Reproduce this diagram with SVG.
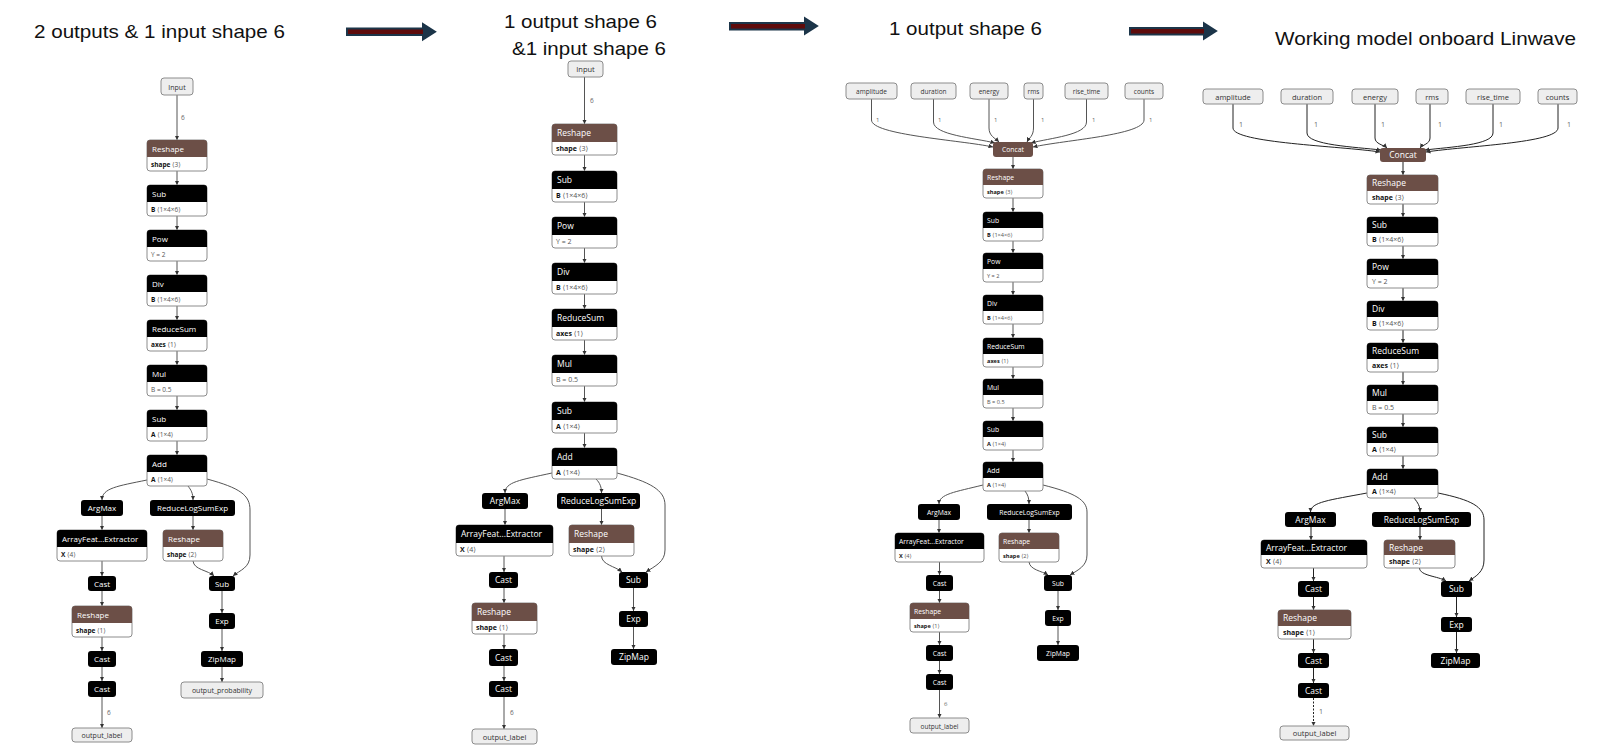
<svg xmlns="http://www.w3.org/2000/svg" width="1605" height="745" viewBox="0 0 1605 745">
<style>
text{font-family:"Open Sans","Liberation Sans","DejaVu Sans",sans-serif}
.ob{fill:#fff;stroke:#8c8c8c;stroke-width:1}
.io{fill:#eee;stroke:#8c8c8c;stroke-width:1}
.hb{fill:#000}
.hs{fill:#6c4f47}
.h{fill:#fff}
.c{text-anchor:middle}
.a{fill:#555}
.a tspan{fill:#111;font-weight:bold}
.it{fill:#333;text-anchor:middle}
.el{fill:#666}
.e{fill:none;stroke:#555;stroke-width:1;marker-end:url(#ah)}
.e4{fill:none;stroke:#222;stroke-width:1;marker-end:url(#ah)}
.p1 .h{font-size:8px}.p1 .a{font-size:6.5px}.p1 .it{font-size:7px}.p1 .el{font-size:6.5px}
.p2 .h{font-size:8.5px}.p2 .a{font-size:7px}.p2 .it{font-size:7.5px}.p2 .el{font-size:6.5px}
.p3 .h{font-size:6.8px}.p3 .a{font-size:5.6px}.p3 .it{font-size:6.5px}.p3 .el{font-size:6px}
.p4 .h{font-size:8.5px}.p4 .a{font-size:7px}.p4 .it{font-size:7.5px}.p4 .el{font-size:7px}
.ttl{font-family:"Liberation Sans Narrow","Liberation Sans",sans-serif;font-size:19px;fill:#111}
.arb{fill:#5e0b0b;stroke:#1c3549;stroke-width:2;stroke-linejoin:miter}
.arh{fill:#1c3549}
</style>
<defs>
<marker id="ah" viewBox="0 0 8 8" refX="8" refY="4" markerWidth="4.5" markerHeight="4.5" orient="auto"><path d="M0,0 L8,4 L0,8 z" fill="#333"/></marker>
</defs>
<rect width="1605" height="745" fill="#fff"/>

<g id="titles">
<text class="ttl" x="34" y="38" textLength="251" lengthAdjust="spacingAndGlyphs">2 outputs &amp; 1 input shape 6</text>
<text class="ttl" x="504" y="28" textLength="153" lengthAdjust="spacingAndGlyphs">1 output shape 6</text>
<text class="ttl" x="512" y="55" textLength="154" lengthAdjust="spacingAndGlyphs">&amp;1 input shape 6</text>
<text class="ttl" x="889" y="35" textLength="153" lengthAdjust="spacingAndGlyphs">1 output shape 6</text>
<text class="ttl" x="1275" y="45" textLength="301" lengthAdjust="spacingAndGlyphs">Working model onboard Linwave</text>
</g>
<g id="bigarrows">
<polygon class="arb" points="347,28.5 423,28.5 423,24 435,31.7 423,39.4 423,35 347,35"/>
<polygon class="arh" points="423,24 435,31.7 423,39.4"/>
<polygon class="arb" points="730,23 805,23 805,18.3 817,26 805,33.7 805,29.5 730,29.5"/>
<polygon class="arh" points="805,18.3 817,26 805,33.7"/>
<polygon class="arb" points="1130,28 1204,28 1204,23.3 1216,31 1204,38.7 1204,34.5 1130,34.5"/>
<polygon class="arh" points="1204,23.3 1216,31 1204,38.7"/>
</g>

<!-- PANEL 1 -->
<g class="p1">
<g id="p1-edges">
<path class="e" d="M177,95V140"/>
<path class="e" d="M177,171V185"/>
<path class="e" d="M177,216V230"/>
<path class="e" d="M177,261V275"/>
<path class="e" d="M177,306V320"/>
<path class="e" d="M177,351V365"/>
<path class="e" d="M177,396V410"/>
<path class="e" d="M177,441V455"/>
<path class="e" d="M147,480C118,486 102,488 102,500"/>
<path class="e" d="M188,486C191,490 193,493 193,500"/>
<path class="e" d="M207,479C240,488 250,495 250,510V555C250,568 240,570 233,576"/>
<path class="e" d="M193,561C194,570 208,570 214,576"/>
<path class="e" d="M102,516V530"/>
<path class="e" d="M193,516V530"/>
<path class="e" d="M102,561V576"/>
<path class="e" d="M102,591V606"/>
<path class="e" d="M102,637V651"/>
<path class="e" d="M102,667V681"/>
<path class="e" d="M102,697V728"/>
<path class="e" d="M222,591V613"/>
<path class="e" d="M222,629V651"/>
<path class="e" d="M222,667V682"/>
<text class="el" x="181" y="120">6</text>
<text class="el" x="107" y="715">6</text>
</g>
<g id="p1-input"><rect class="io" x="161" y="78" width="32" height="17" rx="3"/><text class="it" x="177" y="89.5">Input</text></g>
<g id="p1-reshape"><rect class="ob" x="147" y="140" width="60" height="31" rx="3"/><path class="hs" d="M147,157v-14a3 3 0 0 1 3-3h54a3 3 0 0 1 3 3v14z"/><text class="h" x="152" y="151.5">Reshape</text><text class="a" x="151" y="166.5"><tspan>shape</tspan> ⟨3⟩</text></g>
<g id="p1-sub"><rect class="ob" x="147" y="185" width="60" height="31" rx="3"/><path class="hb" d="M147,202v-14a3 3 0 0 1 3-3h54a3 3 0 0 1 3 3v14z"/><text class="h" x="152" y="196.5">Sub</text><text class="a" x="151" y="211.5"><tspan>B</tspan> ⟨1×4×6⟩</text></g>
<g id="p1-pow"><rect class="ob" x="147" y="230" width="60" height="31" rx="3"/><path class="hb" d="M147,247v-14a3 3 0 0 1 3-3h54a3 3 0 0 1 3 3v14z"/><text class="h" x="152" y="241.5">Pow</text><text class="a" x="151" y="256.5">Y = 2</text></g>
<g id="p1-div"><rect class="ob" x="147" y="275" width="60" height="31" rx="3"/><path class="hb" d="M147,292v-14a3 3 0 0 1 3-3h54a3 3 0 0 1 3 3v14z"/><text class="h" x="152" y="286.5">Div</text><text class="a" x="151" y="301.5"><tspan>B</tspan> ⟨1×4×6⟩</text></g>
<g id="p1-reducesum"><rect class="ob" x="147" y="320" width="60" height="31" rx="3"/><path class="hb" d="M147,337v-14a3 3 0 0 1 3-3h54a3 3 0 0 1 3 3v14z"/><text class="h" x="152" y="331.5">ReduceSum</text><text class="a" x="151" y="346.5"><tspan>axes</tspan> ⟨1⟩</text></g>
<g id="p1-mul"><rect class="ob" x="147" y="365" width="60" height="31" rx="3"/><path class="hb" d="M147,382v-14a3 3 0 0 1 3-3h54a3 3 0 0 1 3 3v14z"/><text class="h" x="152" y="376.5">Mul</text><text class="a" x="151" y="391.5">B = 0.5</text></g>
<g id="p1-sub2"><rect class="ob" x="147" y="410" width="60" height="31" rx="3"/><path class="hb" d="M147,427v-14a3 3 0 0 1 3-3h54a3 3 0 0 1 3 3v14z"/><text class="h" x="152" y="421.5">Sub</text><text class="a" x="151" y="436.5"><tspan>A</tspan> ⟨1×4⟩</text></g>
<g id="p1-add"><rect class="ob" x="147" y="455" width="60" height="31" rx="3"/><path class="hb" d="M147,472v-14a3 3 0 0 1 3-3h54a3 3 0 0 1 3 3v14z"/><text class="h" x="152" y="466.5">Add</text><text class="a" x="151" y="481.5"><tspan>A</tspan> ⟨1×4⟩</text></g>
<g id="p1-argmax"><rect class="hb" x="81" y="500" width="42" height="16" rx="3"/><text class="h c" x="102" y="511">ArgMax</text></g>
<g id="p1-rlse"><rect class="hb" x="150" y="500" width="85" height="16" rx="3"/><text class="h c" x="192.5" y="511">ReduceLogSumExp</text></g>
<g id="p1-afe"><rect class="ob" x="57" y="530" width="90" height="31" rx="3"/><path class="hb" d="M57,547v-14a3 3 0 0 1 3-3h84a3 3 0 0 1 3 3v14z"/><text class="h" x="62" y="541.5">ArrayFeat...Extractor</text><text class="a" x="61" y="556.5"><tspan>X</tspan> ⟨4⟩</text></g>
<g id="p1-reshape2"><rect class="ob" x="163" y="530" width="60" height="31" rx="3"/><path class="hs" d="M163,547v-14a3 3 0 0 1 3-3h54a3 3 0 0 1 3 3v14z"/><text class="h" x="168" y="541.5">Reshape</text><text class="a" x="167" y="556.5"><tspan>shape</tspan> ⟨2⟩</text></g>
<g id="p1-cast1"><rect class="hb" x="88" y="576" width="28" height="15" rx="3"/><text class="h c" x="102" y="586.5">Cast</text></g>
<g id="p1-reshape3"><rect class="ob" x="72" y="606" width="60" height="31" rx="3"/><path class="hs" d="M72,623v-14a3 3 0 0 1 3-3h54a3 3 0 0 1 3 3v14z"/><text class="h" x="77" y="617.5">Reshape</text><text class="a" x="76" y="632.5"><tspan>shape</tspan> ⟨1⟩</text></g>
<g id="p1-cast2"><rect class="hb" x="88" y="651" width="28" height="16" rx="3"/><text class="h c" x="102" y="662">Cast</text></g>
<g id="p1-cast3"><rect class="hb" x="88" y="681" width="28" height="16" rx="3"/><text class="h c" x="102" y="692">Cast</text></g>
<g id="p1-outlabel"><rect class="io" x="72" y="728" width="60" height="14" rx="3"/><text class="it" x="102" y="738">output_label</text></g>
<g id="p1-sub3"><rect class="hb" x="209" y="576" width="26" height="15" rx="3"/><text class="h c" x="222" y="586.5">Sub</text></g>
<g id="p1-exp"><rect class="hb" x="209" y="613" width="26" height="16" rx="3"/><text class="h c" x="222" y="624">Exp</text></g>
<g id="p1-zipmap"><rect class="hb" x="201" y="651" width="42" height="16" rx="3"/><text class="h c" x="222" y="662">ZipMap</text></g>
<g id="p1-outprob"><rect class="io" x="181" y="682" width="82" height="16" rx="3"/><text class="it" x="222" y="693">output_probability</text></g>
</g>

<!-- PANEL 2 -->
<g class="p2">
<g id="p2-edges">
<path class="e" d="M584.5,77V124"/>
<path class="e" d="M584.5,155V171"/>
<path class="e" d="M584.5,202V217"/>
<path class="e" d="M584.5,248V263"/>
<path class="e" d="M584.5,294V309"/>
<path class="e" d="M584.5,340V355"/>
<path class="e" d="M584.5,386V402"/>
<path class="e" d="M584.5,433V448"/>
<path class="e" d="M552,473C520,480 505,482 505,493"/>
<path class="e" d="M596,479C600,483 601.5,487 601.5,493"/>
<path class="e" d="M617,473C650,482 665,490 665,505V550C665,562 655,566 646,572"/>
<path class="e" d="M601.5,556C602,565 615,566 622,572"/>
<path class="e" d="M505,509V525"/>
<path class="e" d="M601.5,509V525"/>
<path class="e" d="M504,556V572"/>
<path class="e" d="M504,588V603"/>
<path class="e" d="M504,634V649"/>
<path class="e" d="M504,666V681"/>
<path class="e" d="M504,697V729"/>
<path class="e" d="M633.5,588V611"/>
<path class="e" d="M633.5,627V649"/>
<text class="el" x="590" y="103">6</text>
<text class="el" x="510" y="715">6</text>
</g>
<g id="p2-input"><rect class="io" x="568" y="61" width="35" height="16" rx="3"/><text class="it" x="585.5" y="72">Input</text></g>
<g id="p2-reshape"><rect class="ob" x="552" y="124" width="65" height="31" rx="3"/><path class="hs" d="M552,142v-15a3 3 0 0 1 3-3h59a3 3 0 0 1 3 3v15z"/><text class="h" x="557" y="136">Reshape</text><text class="a" x="556" y="151"><tspan>shape</tspan> ⟨3⟩</text></g>
<g id="p2-sub"><rect class="ob" x="552" y="171" width="65" height="31" rx="3"/><path class="hb" d="M552,189v-15a3 3 0 0 1 3-3h59a3 3 0 0 1 3 3v15z"/><text class="h" x="557" y="183">Sub</text><text class="a" x="556" y="198"><tspan>B</tspan> ⟨1×4×6⟩</text></g>
<g id="p2-pow"><rect class="ob" x="552" y="217" width="65" height="31" rx="3"/><path class="hb" d="M552,235v-15a3 3 0 0 1 3-3h59a3 3 0 0 1 3 3v15z"/><text class="h" x="557" y="229">Pow</text><text class="a" x="556" y="244">Y = 2</text></g>
<g id="p2-div"><rect class="ob" x="552" y="263" width="65" height="31" rx="3"/><path class="hb" d="M552,281v-15a3 3 0 0 1 3-3h59a3 3 0 0 1 3 3v15z"/><text class="h" x="557" y="275">Div</text><text class="a" x="556" y="290"><tspan>B</tspan> ⟨1×4×6⟩</text></g>
<g id="p2-reducesum"><rect class="ob" x="552" y="309" width="65" height="31" rx="3"/><path class="hb" d="M552,327v-15a3 3 0 0 1 3-3h59a3 3 0 0 1 3 3v15z"/><text class="h" x="557" y="321">ReduceSum</text><text class="a" x="556" y="336"><tspan>axes</tspan> ⟨1⟩</text></g>
<g id="p2-mul"><rect class="ob" x="552" y="355" width="65" height="31" rx="3"/><path class="hb" d="M552,373v-15a3 3 0 0 1 3-3h59a3 3 0 0 1 3 3v15z"/><text class="h" x="557" y="367">Mul</text><text class="a" x="556" y="382">B = 0.5</text></g>
<g id="p2-sub2"><rect class="ob" x="552" y="402" width="65" height="31" rx="3"/><path class="hb" d="M552,420v-15a3 3 0 0 1 3-3h59a3 3 0 0 1 3 3v15z"/><text class="h" x="557" y="414">Sub</text><text class="a" x="556" y="429"><tspan>A</tspan> ⟨1×4⟩</text></g>
<g id="p2-add"><rect class="ob" x="552" y="448" width="65" height="31" rx="3"/><path class="hb" d="M552,466v-15a3 3 0 0 1 3-3h59a3 3 0 0 1 3 3v15z"/><text class="h" x="557" y="460">Add</text><text class="a" x="556" y="475"><tspan>A</tspan> ⟨1×4⟩</text></g>
<g id="p2-argmax"><rect class="hb" x="482" y="493" width="46" height="16" rx="3"/><text class="h c" x="505" y="504">ArgMax</text></g>
<g id="p2-rlse"><rect class="hb" x="557" y="493" width="83" height="16" rx="3"/><text class="h c" x="598.5" y="504">ReduceLogSumExp</text></g>
<g id="p2-afe"><rect class="ob" x="456" y="525" width="97" height="31" rx="3"/><path class="hb" d="M456,543v-15a3 3 0 0 1 3-3h91a3 3 0 0 1 3 3v15z"/><text class="h" x="461" y="537">ArrayFeat...Extractor</text><text class="a" x="460" y="552"><tspan>X</tspan> ⟨4⟩</text></g>
<g id="p2-reshape2"><rect class="ob" x="569" y="525" width="65" height="31" rx="3"/><path class="hs" d="M569,543v-15a3 3 0 0 1 3-3h59a3 3 0 0 1 3 3v15z"/><text class="h" x="574" y="537">Reshape</text><text class="a" x="573" y="552"><tspan>shape</tspan> ⟨2⟩</text></g>
<g id="p2-cast1"><rect class="hb" x="489" y="572" width="29" height="16" rx="3"/><text class="h c" x="503.5" y="583">Cast</text></g>
<g id="p2-reshape3"><rect class="ob" x="472" y="603" width="65" height="31" rx="3"/><path class="hs" d="M472,621v-15a3 3 0 0 1 3-3h59a3 3 0 0 1 3 3v15z"/><text class="h" x="477" y="615">Reshape</text><text class="a" x="476" y="630"><tspan>shape</tspan> ⟨1⟩</text></g>
<g id="p2-cast2"><rect class="hb" x="489" y="649" width="29" height="17" rx="3"/><text class="h c" x="503.5" y="660.5">Cast</text></g>
<g id="p2-cast3"><rect class="hb" x="489" y="681" width="29" height="16" rx="3"/><text class="h c" x="503.5" y="692">Cast</text></g>
<g id="p2-outlabel"><rect class="io" x="472" y="729" width="65" height="15" rx="3"/><text class="it" x="504.5" y="740">output_label</text></g>
<g id="p2-sub3"><rect class="hb" x="619" y="572" width="29" height="16" rx="3"/><text class="h c" x="633.5" y="583">Sub</text></g>
<g id="p2-exp"><rect class="hb" x="619" y="611" width="29" height="16" rx="3"/><text class="h c" x="633.5" y="622">Exp</text></g>
<g id="p2-zipmap"><rect class="hb" x="611" y="649" width="46" height="16" rx="3"/><text class="h c" x="634" y="660">ZipMap</text></g>
</g>

<!-- PANEL 3 -->
<g class="p3">
<g id="p3-edges">
<path class="e" d="M871.5,99V120C871.5,135 960,140 993,147"/>
<path class="e" d="M933.5,99V122C933.5,135 975,138 995,143"/>
<path class="e" d="M989,99V128C989,136 995,138 999,142"/>
<path class="e" d="M1033.5,99V128C1033.5,136 1029,138 1027,142"/>
<path class="e" d="M1086.5,99V122C1086.5,135 1050,138 1031,143"/>
<path class="e" d="M1144,99V120C1144,135 1065,140 1033,147"/>
<path class="e" d="M1013,157V169"/>
<path class="e" d="M1013,198V212"/>
<path class="e" d="M1013,241V253"/>
<path class="e" d="M1013,282V295"/>
<path class="e" d="M1013,324V338"/>
<path class="e" d="M1013,367V379"/>
<path class="e" d="M1013,408V421"/>
<path class="e" d="M1013,450V462"/>
<path class="e" d="M983,485C955,492 939,494 939,504"/>
<path class="e" d="M1025,491C1028,495 1029,498 1029,504"/>
<path class="e" d="M1043,485C1075,493 1087,500 1087,512V555C1087,566 1078,570 1070,575"/>
<path class="e" d="M1029,562C1030,570 1042,571 1048,575"/>
<path class="e" d="M939,520V533"/>
<path class="e" d="M1029,520V533"/>
<path class="e" d="M939.5,562V575"/>
<path class="e" d="M939.5,591V603"/>
<path class="e" d="M939.5,632V645"/>
<path class="e" d="M939.5,661V674"/>
<path class="e" d="M939.5,690V718"/>
<path class="e" d="M1058,591V610"/>
<path class="e" d="M1058,626V645"/>
<text class="el" x="876" y="122">1</text>
<text class="el" x="938" y="122">1</text>
<text class="el" x="994" y="122">1</text>
<text class="el" x="1041" y="122">1</text>
<text class="el" x="1092" y="122">1</text>
<text class="el" x="1149" y="122">1</text>
<text class="el" x="944" y="706">6</text>
</g>
<g id="p3-amplitude"><rect class="io" x="846" y="83" width="51" height="16" rx="3"/><text class="it" x="871.5" y="93.5">amplitude</text></g>
<g id="p3-duration"><rect class="io" x="911" y="83" width="45" height="16" rx="3"/><text class="it" x="933.5" y="93.5">duration</text></g>
<g id="p3-energy"><rect class="io" x="970" y="83" width="38" height="16" rx="3"/><text class="it" x="989" y="93.5">energy</text></g>
<g id="p3-rms"><rect class="io" x="1024" y="83" width="19" height="16" rx="3"/><text class="it" x="1033.5" y="93.5">rms</text></g>
<g id="p3-risetime"><rect class="io" x="1065" y="83" width="43" height="16" rx="3"/><text class="it" x="1086.5" y="93.5">rise_time</text></g>
<g id="p3-counts"><rect class="io" x="1125" y="83" width="38" height="16" rx="3"/><text class="it" x="1144" y="93.5">counts</text></g>
<g id="p3-concat"><rect class="hs" x="993" y="142" width="40" height="15" rx="3"/><text class="h c" x="1013" y="152">Concat</text></g>
<g id="p3-reshape"><rect class="ob" x="983" y="169" width="60" height="29" rx="3"/><path class="hs" d="M983,185v-13a3 3 0 0 1 3-3h54a3 3 0 0 1 3 3v13z"/><text class="h" x="987" y="179.5">Reshape</text><text class="a" x="987" y="193.5"><tspan>shape</tspan> ⟨3⟩</text></g>
<g id="p3-sub"><rect class="ob" x="983" y="212" width="60" height="29" rx="3"/><path class="hb" d="M983,228v-13a3 3 0 0 1 3-3h54a3 3 0 0 1 3 3v13z"/><text class="h" x="987" y="222.5">Sub</text><text class="a" x="987" y="236.5"><tspan>B</tspan> ⟨1×4×6⟩</text></g>
<g id="p3-pow"><rect class="ob" x="983" y="253" width="60" height="29" rx="3"/><path class="hb" d="M983,269v-13a3 3 0 0 1 3-3h54a3 3 0 0 1 3 3v13z"/><text class="h" x="987" y="263.5">Pow</text><text class="a" x="987" y="277.5">Y = 2</text></g>
<g id="p3-div"><rect class="ob" x="983" y="295" width="60" height="29" rx="3"/><path class="hb" d="M983,311v-13a3 3 0 0 1 3-3h54a3 3 0 0 1 3 3v13z"/><text class="h" x="987" y="305.5">Div</text><text class="a" x="987" y="319.5"><tspan>B</tspan> ⟨1×4×6⟩</text></g>
<g id="p3-reducesum"><rect class="ob" x="983" y="338" width="60" height="29" rx="3"/><path class="hb" d="M983,354v-13a3 3 0 0 1 3-3h54a3 3 0 0 1 3 3v13z"/><text class="h" x="987" y="348.5">ReduceSum</text><text class="a" x="987" y="362.5"><tspan>axes</tspan> ⟨1⟩</text></g>
<g id="p3-mul"><rect class="ob" x="983" y="379" width="60" height="29" rx="3"/><path class="hb" d="M983,395v-13a3 3 0 0 1 3-3h54a3 3 0 0 1 3 3v13z"/><text class="h" x="987" y="389.5">Mul</text><text class="a" x="987" y="403.5">B = 0.5</text></g>
<g id="p3-sub2"><rect class="ob" x="983" y="421" width="60" height="29" rx="3"/><path class="hb" d="M983,437v-13a3 3 0 0 1 3-3h54a3 3 0 0 1 3 3v13z"/><text class="h" x="987" y="431.5">Sub</text><text class="a" x="987" y="445.5"><tspan>A</tspan> ⟨1×4⟩</text></g>
<g id="p3-add"><rect class="ob" x="983" y="462" width="60" height="29" rx="3"/><path class="hb" d="M983,478v-13a3 3 0 0 1 3-3h54a3 3 0 0 1 3 3v13z"/><text class="h" x="987" y="472.5">Add</text><text class="a" x="987" y="486.5"><tspan>A</tspan> ⟨1×4⟩</text></g>
<g id="p3-argmax"><rect class="hb" x="918" y="504" width="42" height="16" rx="3"/><text class="h c" x="939" y="514.5">ArgMax</text></g>
<g id="p3-rlse"><rect class="hb" x="987" y="504" width="85" height="16" rx="3"/><text class="h c" x="1029.5" y="514.5">ReduceLogSumExp</text></g>
<g id="p3-afe"><rect class="ob" x="895" y="533" width="89" height="29" rx="3"/><path class="hb" d="M895,549v-13a3 3 0 0 1 3-3h83a3 3 0 0 1 3 3v13z"/><text class="h" x="899" y="543.5">ArrayFeat...Extractor</text><text class="a" x="899" y="557.5"><tspan>X</tspan> ⟨4⟩</text></g>
<g id="p3-reshape2"><rect class="ob" x="999" y="533" width="60" height="29" rx="3"/><path class="hs" d="M999,549v-13a3 3 0 0 1 3-3h54a3 3 0 0 1 3 3v13z"/><text class="h" x="1003" y="543.5">Reshape</text><text class="a" x="1003" y="557.5"><tspan>shape</tspan> ⟨2⟩</text></g>
<g id="p3-cast1"><rect class="hb" x="926" y="575" width="27" height="16" rx="3"/><text class="h c" x="939.5" y="585.5">Cast</text></g>
<g id="p3-reshape3"><rect class="ob" x="910" y="603" width="59" height="29" rx="3"/><path class="hs" d="M910,619v-13a3 3 0 0 1 3-3h53a3 3 0 0 1 3 3v13z"/><text class="h" x="914" y="613.5">Reshape</text><text class="a" x="914" y="627.5"><tspan>shape</tspan> ⟨1⟩</text></g>
<g id="p3-cast2"><rect class="hb" x="926" y="645" width="27" height="16" rx="3"/><text class="h c" x="939.5" y="655.5">Cast</text></g>
<g id="p3-cast3"><rect class="hb" x="926" y="674" width="27" height="16" rx="3"/><text class="h c" x="939.5" y="684.5">Cast</text></g>
<g id="p3-outlabel"><rect class="io" x="910" y="718" width="59" height="15" rx="3"/><text class="it" x="939.5" y="728.5">output_label</text></g>
<g id="p3-sub3"><rect class="hb" x="1044" y="575" width="28" height="16" rx="3"/><text class="h c" x="1058" y="585.5">Sub</text></g>
<g id="p3-exp"><rect class="hb" x="1045" y="610" width="26" height="16" rx="3"/><text class="h c" x="1058" y="620.5">Exp</text></g>
<g id="p3-zipmap"><rect class="hb" x="1037" y="645" width="42" height="16" rx="3"/><text class="h c" x="1058" y="655.5">ZipMap</text></g>
</g>

<!-- PANEL 4 -->
<g class="p4">
<g id="p4-edges">
<path class="e4" d="M1233,104V128C1233,143 1340,146 1380,152"/>
<path class="e4" d="M1307,104V133C1307,145 1355,147 1381,150"/>
<path class="e4" d="M1375,104V138C1375,144 1384,145 1387,148"/>
<path class="e4" d="M1430,104V138C1430,144 1422,145 1420,148"/>
<path class="e4" d="M1493,104V133C1493,145 1450,147 1425,150"/>
<path class="e4" d="M1558,104V128C1558,143 1465,146 1426,152"/>
<path class="e4" d="M1403,162V175"/>
<path class="e4" d="M1403,204V217"/>
<path class="e4" d="M1403,246V259"/>
<path class="e4" d="M1403,288V301"/>
<path class="e4" d="M1403,330V343"/>
<path class="e4" d="M1403,372V385"/>
<path class="e4" d="M1403,414V427"/>
<path class="e4" d="M1403,456V469"/>
<path class="e4" d="M1367,493C1330,500 1310.5,502 1310.5,512"/>
<path class="e4" d="M1414,498C1418,503 1420,506 1420,512"/>
<path class="e4" d="M1438,493C1472,500 1484,507 1484,520V560C1484,572 1476,576 1469,581"/>
<path class="e4" d="M1419.5,568C1420,576 1438,576 1446,581"/>
<path class="e4" d="M1311,527V540"/>
<path class="e4" d="M1420,527V540"/>
<path class="e4" d="M1313.5,568V581"/>
<path class="e4" d="M1313.5,597V610"/>
<path class="e4" d="M1313.5,639V653"/>
<path class="e4" d="M1313.5,668V683"/>
<path class="e4" d="M1313.5,698V726" stroke-dasharray="2,1.5"/>
<path class="e4" d="M1456.5,597V617"/>
<path class="e4" d="M1456.5,632V653"/>
<text class="el" x="1239" y="127">1</text>
<text class="el" x="1314" y="127">1</text>
<text class="el" x="1381" y="127">1</text>
<text class="el" x="1438" y="127">1</text>
<text class="el" x="1499" y="127">1</text>
<text class="el" x="1567" y="127">1</text>
<text class="el" x="1319" y="714">1</text>
</g>
<g id="p4-amplitude"><rect class="io" x="1203" y="89" width="60" height="15" rx="3"/><text class="it" x="1233" y="99.5">amplitude</text></g>
<g id="p4-duration"><rect class="io" x="1281" y="89" width="52" height="15" rx="3"/><text class="it" x="1307" y="99.5">duration</text></g>
<g id="p4-energy"><rect class="io" x="1352" y="89" width="46" height="15" rx="3"/><text class="it" x="1375" y="99.5">energy</text></g>
<g id="p4-rms"><rect class="io" x="1416" y="89" width="32" height="15" rx="3"/><text class="it" x="1432" y="99.5">rms</text></g>
<g id="p4-risetime"><rect class="io" x="1466" y="89" width="54" height="15" rx="3"/><text class="it" x="1493" y="99.5">rise_time</text></g>
<g id="p4-counts"><rect class="io" x="1538" y="89" width="39" height="15" rx="3"/><text class="it" x="1557.5" y="99.5">counts</text></g>
<g id="p4-concat"><rect class="hs" x="1380" y="148" width="46" height="14" rx="3"/><text class="h c" x="1403" y="158">Concat</text></g>
<g id="p4-reshape"><rect class="ob" x="1367" y="175" width="71" height="29" rx="3"/><path class="hs" d="M1367,191v-13a3 3 0 0 1 3-3h65a3 3 0 0 1 3 3v13z"/><text class="h" x="1372" y="186">Reshape</text><text class="a" x="1372" y="200"><tspan>shape</tspan> ⟨3⟩</text></g>
<g id="p4-sub"><rect class="ob" x="1367" y="217" width="71" height="29" rx="3"/><path class="hb" d="M1367,233v-13a3 3 0 0 1 3-3h65a3 3 0 0 1 3 3v13z"/><text class="h" x="1372" y="228">Sub</text><text class="a" x="1372" y="242"><tspan>B</tspan> ⟨1×4×6⟩</text></g>
<g id="p4-pow"><rect class="ob" x="1367" y="259" width="71" height="29" rx="3"/><path class="hb" d="M1367,275v-13a3 3 0 0 1 3-3h65a3 3 0 0 1 3 3v13z"/><text class="h" x="1372" y="270">Pow</text><text class="a" x="1372" y="284">Y = 2</text></g>
<g id="p4-div"><rect class="ob" x="1367" y="301" width="71" height="29" rx="3"/><path class="hb" d="M1367,317v-13a3 3 0 0 1 3-3h65a3 3 0 0 1 3 3v13z"/><text class="h" x="1372" y="312">Div</text><text class="a" x="1372" y="326"><tspan>B</tspan> ⟨1×4×6⟩</text></g>
<g id="p4-reducesum"><rect class="ob" x="1367" y="343" width="71" height="29" rx="3"/><path class="hb" d="M1367,359v-13a3 3 0 0 1 3-3h65a3 3 0 0 1 3 3v13z"/><text class="h" x="1372" y="354">ReduceSum</text><text class="a" x="1372" y="368"><tspan>axes</tspan> ⟨1⟩</text></g>
<g id="p4-mul"><rect class="ob" x="1367" y="385" width="71" height="29" rx="3"/><path class="hb" d="M1367,401v-13a3 3 0 0 1 3-3h65a3 3 0 0 1 3 3v13z"/><text class="h" x="1372" y="396">Mul</text><text class="a" x="1372" y="410">B = 0.5</text></g>
<g id="p4-sub2"><rect class="ob" x="1367" y="427" width="71" height="29" rx="3"/><path class="hb" d="M1367,443v-13a3 3 0 0 1 3-3h65a3 3 0 0 1 3 3v13z"/><text class="h" x="1372" y="438">Sub</text><text class="a" x="1372" y="452"><tspan>A</tspan> ⟨1×4⟩</text></g>
<g id="p4-add"><rect class="ob" x="1367" y="469" width="71" height="29" rx="3"/><path class="hb" d="M1367,485v-13a3 3 0 0 1 3-3h65a3 3 0 0 1 3 3v13z"/><text class="h" x="1372" y="480">Add</text><text class="a" x="1372" y="494"><tspan>A</tspan> ⟨1×4⟩</text></g>
<g id="p4-argmax"><rect class="hb" x="1285" y="512" width="51" height="15" rx="3"/><text class="h c" x="1310.5" y="522.5">ArgMax</text></g>
<g id="p4-rlse"><rect class="hb" x="1372" y="512" width="99" height="15" rx="3"/><text class="h c" x="1421.5" y="522.5">ReduceLogSumExp</text></g>
<g id="p4-afe"><rect class="ob" x="1261" y="540" width="106" height="28" rx="3"/><path class="hb" d="M1261,555v-12a3 3 0 0 1 3-3h100a3 3 0 0 1 3 3v12z"/><text class="h" x="1266" y="550.5">ArrayFeat...Extractor</text><text class="a" x="1266" y="564"><tspan>X</tspan> ⟨4⟩</text></g>
<g id="p4-reshape2"><rect class="ob" x="1384" y="540" width="71" height="28" rx="3"/><path class="hs" d="M1384,555v-12a3 3 0 0 1 3-3h65a3 3 0 0 1 3 3v12z"/><text class="h" x="1389" y="550.5">Reshape</text><text class="a" x="1389" y="564"><tspan>shape</tspan> ⟨2⟩</text></g>
<g id="p4-cast1"><rect class="hb" x="1298" y="581" width="31" height="16" rx="3"/><text class="h c" x="1313.5" y="592">Cast</text></g>
<g id="p4-reshape3"><rect class="ob" x="1278" y="610" width="73" height="29" rx="3"/><path class="hs" d="M1278,626v-13a3 3 0 0 1 3-3h67a3 3 0 0 1 3 3v13z"/><text class="h" x="1283" y="621">Reshape</text><text class="a" x="1283" y="635"><tspan>shape</tspan> ⟨1⟩</text></g>
<g id="p4-cast2"><rect class="hb" x="1298" y="653" width="31" height="15" rx="3"/><text class="h c" x="1313.5" y="663.5">Cast</text></g>
<g id="p4-cast3"><rect class="hb" x="1298" y="683" width="31" height="15" rx="3"/><text class="h c" x="1313.5" y="693.5">Cast</text></g>
<g id="p4-outlabel"><rect class="io" x="1280" y="726" width="69" height="14" rx="3"/><text class="it" x="1314.5" y="736">output_label</text></g>
<g id="p4-sub3"><rect class="hb" x="1441" y="581" width="31" height="16" rx="3"/><text class="h c" x="1456.5" y="592">Sub</text></g>
<g id="p4-exp"><rect class="hb" x="1441" y="617" width="31" height="15" rx="3"/><text class="h c" x="1456.5" y="627.5">Exp</text></g>
<g id="p4-zipmap"><rect class="hb" x="1431" y="653" width="49" height="15" rx="3"/><text class="h c" x="1455.5" y="663.5">ZipMap</text></g>
</g>
</svg>
